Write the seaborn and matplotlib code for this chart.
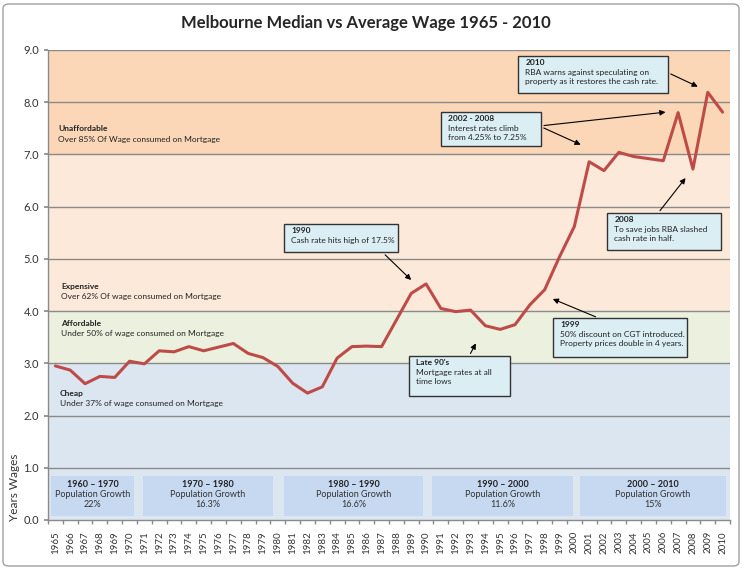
import numpy as np
import pandas as pd
import matplotlib
matplotlib.use("Agg")
import matplotlib.pyplot as plt
import seaborn as sns
from matplotlib.patches import FancyBboxPatch

# Data
years = list(range(1965, 2011))
wages = [2.95, 2.87, 2.61, 2.75, 2.73, 3.04, 2.99, 3.24, 3.22, 3.32,
         3.24, 3.31, 3.38, 3.19, 3.11, 2.94, 2.62, 2.43, 2.55, 3.10,
         3.32, 3.33, 3.32, 3.83, 4.34, 4.52, 4.05, 3.99, 4.02, 3.72,
         3.65, 3.74, 4.12, 4.41, 5.04, 5.62, 6.86, 6.69, 7.04, 6.96,
         6.92, 6.88, 7.80, 6.72, 8.19, 7.81]

# affordability bands
band_lo = [0, 3, 4, 7]
band_hi = [3, 4, 7, 9]
band_colors = ["#dce6f1", "#ebf1de", "#fde9d9", "#fbd6b7"]
band_titles = ["Cheap", "Affordable", "Expensive", "Unaffordable"]
band_subs = ["Under 37% of wage consumed on Mortgage",
             "Under 50% of wage consumed on Mortgage",
             "Over 62% Of wage consumed on Mortgage",
             "Over 85% Of Wage consumed on Mortgage"]

# decade boxes
decades = ["1960 \u2013 1970", "1970 \u2013 1980", "1980 \u2013 1990",
           "1990 \u2013 2000", "2000 \u2013 2010"]
pop_growth = ["22%", "16.3%", "16.6%", "11.6%", "15%"]
decade_start = [-0.3, 5.9, 15.4, 25.4, 35.4]
decade_end = [5.3, 14.7, 24.8, 34.9, 45.2]

# event call-outs
event_heads = ["1990", "2010", "2002 - 2008", "2008", "1999", "Late 90's"]
event_bodies = ["Cash rate hits high of 17.5%",
                "RBA warns against speculating on\nproperty as it restores the cash rate.",
                "Interest rates climb\nfrom 4.25% to 7.25%",
                "To save jobs RBA slashed\ncash rate in half.",
                "50% discount on CGT introduced.\nProperty prices double in 4 years.",
                "Mortgage rates at all\ntime lows"]

df = pd.DataFrame({"idx": np.arange(len(years)), "year": years, "wage": wages})

sns.set_theme(style="white")
plt.rcParams["font.family"] = ["Lato", "DejaVu Sans"]

fig = plt.figure(figsize=(7.42, 5.69), dpi=100)
ax = fig.add_axes([48 / 742, 49 / 569, 682 / 742, 470 / 569])

def px2x(px):
    return (px - 55.4) / 14.82

def px2y(py):
    return (520 - py) / 52.2

ax.set_xlim(-0.5, len(years) - 0.5)
ax.set_ylim(0, 9)

for lo, hi, c in zip(band_lo, band_hi, band_colors):
    ax.axhspan(lo, hi, color=c, zorder=0, lw=0)
for v in range(1, 10):
    ax.axhline(v, color="#8a8a8a", lw=1, zorder=1)

# band labels: (x px, title y px, sub y px)
band_label_px = [(60, 394, 404), (61, 324, 334), (61, 287, 297), (58, 129, 140)]
for t, s, (lx, ty, sy) in zip(band_titles, band_subs, band_label_px):
    ax.text(px2x(lx), px2y(ty), t, fontsize=6, fontweight="bold",
            color="#222222", va="center", zorder=3)
    ax.text(px2x(lx), px2y(sy), s, fontsize=6, color="#222222",
            va="center", zorder=3)

# decade boxes
for d, g, s, e in zip(decades, pop_growth, decade_start, decade_end):
    ax.add_patch(plt.Rectangle((s, 0.08), e - s, 0.76, facecolor="#c6d9f1",
                               edgecolor="none", zorder=2))
    cx = (s + e) / 2
    ax.text(cx, px2y(485), d, ha="center", va="center", fontsize=6.5,
            fontweight="bold", color="#222222", zorder=3)
    ax.text(cx, px2y(495), "Population Growth", ha="center", va="center",
            fontsize=6.5, color="#333333", zorder=3)
    ax.text(cx, px2y(505), g, ha="center", va="center", fontsize=6.5,
            color="#333333", zorder=3)

sns.lineplot(data=df, x="idx", y="wage", ax=ax, color="#be4b48", lw=2.2,
             zorder=4, legend=False)

# call-out boxes in pixels: left, top, right, bottom
box_px = [(284, 224, 398, 252), (518, 56, 668, 93), (441, 112, 541, 146),
          (607, 213, 721, 250), (553, 318, 687, 357), (409, 356, 510, 396)]
arrows_px = [
    [((383, 253), (413, 282))],
    [((668, 73), (700, 88))],
    [((541, 126), (668, 112)), ((541, 127), (583, 146))],
    [((658, 213), (687, 176))],
    [((598, 318), (550, 298))],
    [((469, 356), (477, 341))],
]
for head, body, (l, t, r, b), arrs in zip(event_heads, event_bodies, box_px, arrows_px):
    for (sx, sy), (tx, ty) in arrs:
        ax.annotate("", xy=(px2x(tx), px2y(ty)), xytext=(px2x(sx), px2y(sy)),
                    arrowprops=dict(arrowstyle="-|>", color="black", lw=0.8,
                                    mutation_scale=8), zorder=5)
    ax.add_patch(plt.Rectangle((px2x(l), px2y(b)), px2x(r) - px2x(l),
                               px2y(t) - px2y(b), facecolor="#dbeef4",
                               edgecolor="#333333", lw=1, zorder=6))
    ax.text(px2x(l + 7), px2y(t + 3), head, fontsize=6, fontweight="bold",
            va="top", ha="left", color="#222222", zorder=7)
    ax.text(px2x(l + 7), px2y(t + 13), body, fontsize=6, va="top", ha="left",
            color="#222222", linespacing=1.35, zorder=7)

ax.set_xticks(np.arange(len(years)))
ax.set_xticklabels([str(y) for y in years], rotation=90, fontsize=7,
                   color="#333333")
ax.set_xticks(np.arange(len(years) + 1) - 0.5, minor=True)
ax.tick_params(axis="x", which="major", length=0, pad=8)
ax.tick_params(axis="x", which="minor", length=3, color="#8a8a8a", bottom=True)
ax.set_yticks(np.arange(0, 10, 1))
ax.set_yticklabels([f"{v:.1f}" for v in range(10)], fontsize=8, color="#333333")
ax.tick_params(axis="y", length=3, color="#8a8a8a", left=True)
ax.set_xlabel("")
ax.set_ylabel("")
for sp in ["top", "right"]:
    ax.spines[sp].set_visible(False)
for sp in ["left", "bottom"]:
    ax.spines[sp].set_color("#8a8a8a")
    ax.spines[sp].set_linewidth(1)

fig.text(14 / 742, 1 - 487 / 569, "Years Wages", rotation=90, ha="center",
         va="center", fontsize=8.5, color="#333333")
fig.text(0.4925, 1 - 23 / 569, "Melbourne Median vs Average Wage 1965 - 2010",
         ha="center", va="center", fontsize=12, fontweight="bold")

fig.patches.append(FancyBboxPatch((3 / 742, 3 / 569), 736 / 742, 562 / 569,
                                  boxstyle="round,pad=0,rounding_size=0.008",
                                  transform=fig.transFigure, facecolor="none",
                                  edgecolor="#a0a0a0", lw=1))

fig.savefig("out.png", dpi=100)
